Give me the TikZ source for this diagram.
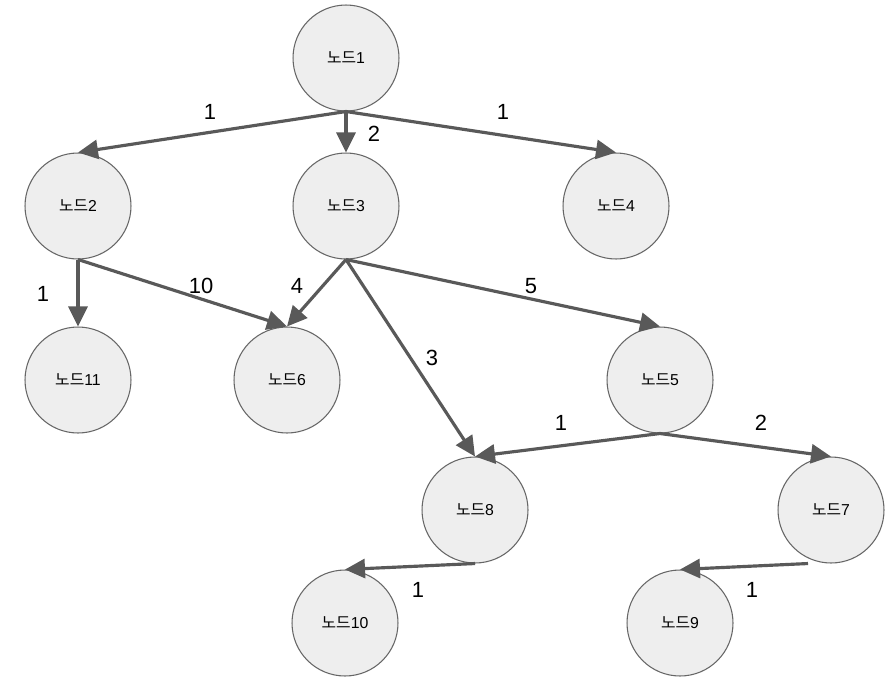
\documentclass[tikz,border=0pt]{standalone}
\usepackage{fontspec}
\setmainfont{Liberation Sans}
\newfontfamily\kr{Noto Sans CJK KR}
\usetikzlibrary{arrows.meta, positioning}
\definecolor{edgegray}{HTML}{595959}
\definecolor{nodefill}{HTML}{EEEEEE}
\definecolor{nodeline}{HTML}{666666}

\begin{document}
\begin{tikzpicture}[x=0.02cm, y=-0.02cm,
    nd/.style={circle, draw=nodeline, fill=nodefill, line width=0.6pt,
      minimum size=2.12cm, inner sep=0pt, font=\fontsize{9}{10}\selectfont},
    edge/.style={draw=edgegray, line width=1.8pt,
      -{Triangle[length=0.4cm, width=0.38cm]}},
    wt/.style={font=\fontsize{12.5}{14}\selectfont, inner sep=0pt}]
  \useasboundingbox (0,0) rectangle (895,680);
  % nodes
  \foreach \n/\x/\y in {1/346/58, 2/78/206, 3/346/206, 4/616/206,
      11/78/380, 6/287/380, 5/660/380, 8/475/510, 7/831/510,
      10/345/623, 9/680/623}
    \node[nd] (n\n) at (\x,\y) {{\kr 노드}\n};
  % edges
  \foreach \a/\b in {1/2, 1/3, 1/4, 2/11, 2/6, 3/6, 3/8, 3/5, 5/8, 5/7, 8/10}
    \draw[edge] (n\a.south) -- (n\b.north);
  \coordinate (s7) at ([xshift=-0.46cm]n7.south);
  \draw[edge] (s7) -- (n9.north);
  % weights
  \foreach \t/\x/\y [count=\i] in {1/210/112, 2/374/134, 1/503/112,
      1/43/294, 10/201/286, 4/297/286, 3/432/358, 5/531/286,
      1/561/423, 2/761/423, 1/418/590, 1/752/590}
    \node[wt] (w\i) at (\x,\y) {\t};
\end{tikzpicture}
\end{document}
